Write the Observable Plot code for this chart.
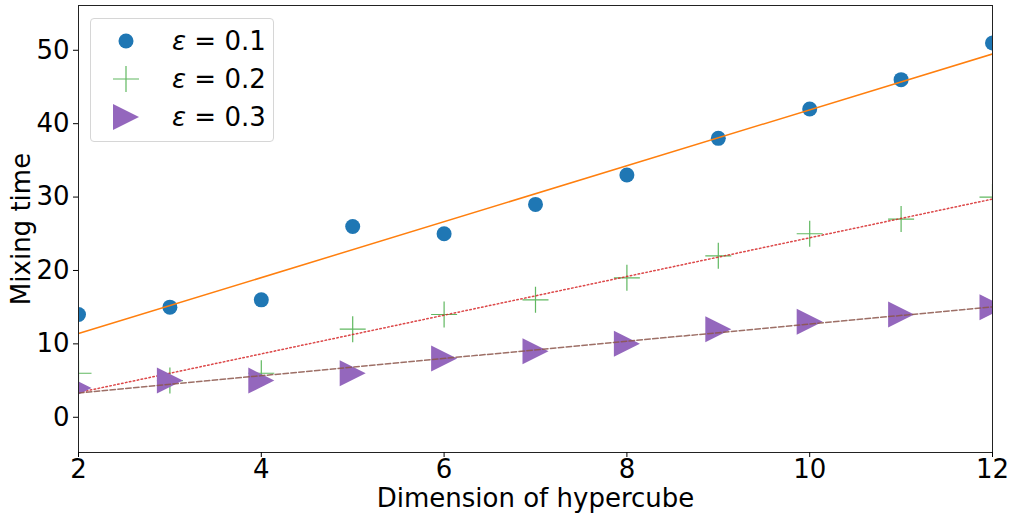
<!DOCTYPE html>
<html>
<head>
<meta charset="utf-8">
<script src="https://cdn.jsdelivr.net/npm/d3@7"></script>
<script src="https://cdn.jsdelivr.net/npm/@observablehq/plot@0.6"></script>
<style>
  html, body { margin: 0; padding: 0; background: #fff; }
  #wrap { position: relative; width: 1010px; height: 514px; font-family: "DejaVu Sans", sans-serif; }
  #legend { position: absolute; left: 90px; top: 18px; width: 184px; height: 124px;
    border: 1px solid #d6d6d6; border-radius: 4px; background: rgba(255,255,255,0.8); box-sizing: border-box; }
  .row { position: absolute; left: 0; height: 38px; display: flex; align-items: center; }
  .row svg { margin-left: 21px; }
  .row span { margin-left: 32px; font-size: 26px; color: #000; white-space: pre; }
  .row i { font-style: italic; }
</style>
</head>
<body>
<div id="wrap"></div>
<script>
// ---- data ----
const dims = [2, 3, 4, 5, 6, 7, 8, 9, 10, 11, 12];
const eps01 = [14, 15, 16, 26, 25, 29, 33, 38, 42, 46, 51];
const eps02 = [6, 5, 6, 12, 14, 16, 19, 22, 25, 27, 30];
const eps03 = [4, 5, 5, 6, 8, 9, 10, 12, 13, 14, 15];
const seriesLabels = ["0.1", "0.2", "0.3"];
const xTicks = [2, 4, 6, 8, 10, 12];
const yTicks = [0, 10, 20, 30, 40, 50];

const d1 = dims.map((x, i) => ({x, y: eps01[i]}));
const d2 = dims.map((x, i) => ({x, y: eps02[i]}));
const d3s = dims.map((x, i) => ({x, y: eps03[i]}));

// custom symbols
const plusSym = {draw(ctx, size) { const r = Math.sqrt(size / Math.PI);
  ctx.moveTo(-r, 0); ctx.lineTo(r, 0); ctx.moveTo(0, -r); ctx.lineTo(0, r); }};
const triRight = {draw(ctx, size) { const r = Math.sqrt(size / Math.PI);
  ctx.moveTo(r, 0); ctx.lineTo(-r, -r); ctx.lineTo(-r, r); ctx.closePath(); }};

const chart = Plot.plot({
  width: 1010, height: 514,
  marginLeft: 78, marginRight: 18, marginTop: 5, marginBottom: 62,
  style: {fontFamily: "DejaVu Sans, sans-serif", color: "#000", background: "#fff"},
  x: {domain: [2, 12]},
  y: {domain: [-4.8, 56.1]},
  marks: [
    Plot.dot(d1, {x: "x", y: "y", r: 7.5, fill: "#1f77b4", stroke: "none", clip: true}),
    Plot.linearRegressionY(d1, {x: "x", y: "y", ci: 0, stroke: "#ff7f0e", strokeWidth: 1.5, clip: true}),
    Plot.dot(d2, {x: "x", y: "y", r: 13, symbol: plusSym, fill: "none", stroke: "#2ca02c", strokeOpacity: 0.75, strokeWidth: 1.2, clip: true}),
    Plot.linearRegressionY(d2, {x: "x", y: "y", ci: 0, stroke: "#d62728", strokeOpacity: 0.85, strokeWidth: 1.5, strokeDasharray: "1.5,2.5", clip: true}),
    Plot.dot(d3s, {x: "x", y: "y", r: 13, symbol: triRight, fill: "#9467bd", stroke: "none", clip: true}),
    Plot.linearRegressionY(d3s, {x: "x", y: "y", ci: 0, stroke: "#8c564b", strokeOpacity: 0.85, strokeWidth: 1.5, strokeDasharray: "5.5,2.4", clip: true}),
    Plot.frame({stroke: "#222", strokeWidth: 1}),
    Plot.axisX({ticks: xTicks, tickSize: 5, tickPadding: 2, fontSize: 26, label: "Dimension of hypercube",
      labelAnchor: "center", labelArrow: "none", labelOffset: 54}),
    Plot.axisY({ticks: yTicks, tickSize: 5, tickPadding: 4, fontSize: 26, label: "Mixing time",
      labelAnchor: "center", labelArrow: "none", labelOffset: 67})
  ]
});
const wrap = document.getElementById("wrap");
wrap.appendChild(chart);

// legend
const legend = document.createElement("div");
legend.id = "legend";
const syms = [
  `<svg width="28" height="28" viewBox="-14 -14 28 28"><circle r="7.5" fill="#1f77b4"/></svg>`,
  `<svg width="28" height="28" viewBox="-14 -14 28 28"><path d="M-13,0H13M0,-13V13" stroke="#2ca02c" stroke-opacity="0.75" stroke-width="1.2" fill="none"/></svg>`,
  `<svg width="28" height="28" viewBox="-14 -14 28 28"><path d="M13,0L-13,-13L-13,13Z" fill="#9467bd"/></svg>`
];
seriesLabels.forEach((t, i) => {
  const row = document.createElement("div");
  row.className = "row";
  row.style.top = (3 + i * 38) + "px";
  row.innerHTML = syms[i] + `<span><i>ε</i> = ${t}</span>`;
  legend.appendChild(row);
});
wrap.appendChild(legend);
</script>
</body>
</html>
